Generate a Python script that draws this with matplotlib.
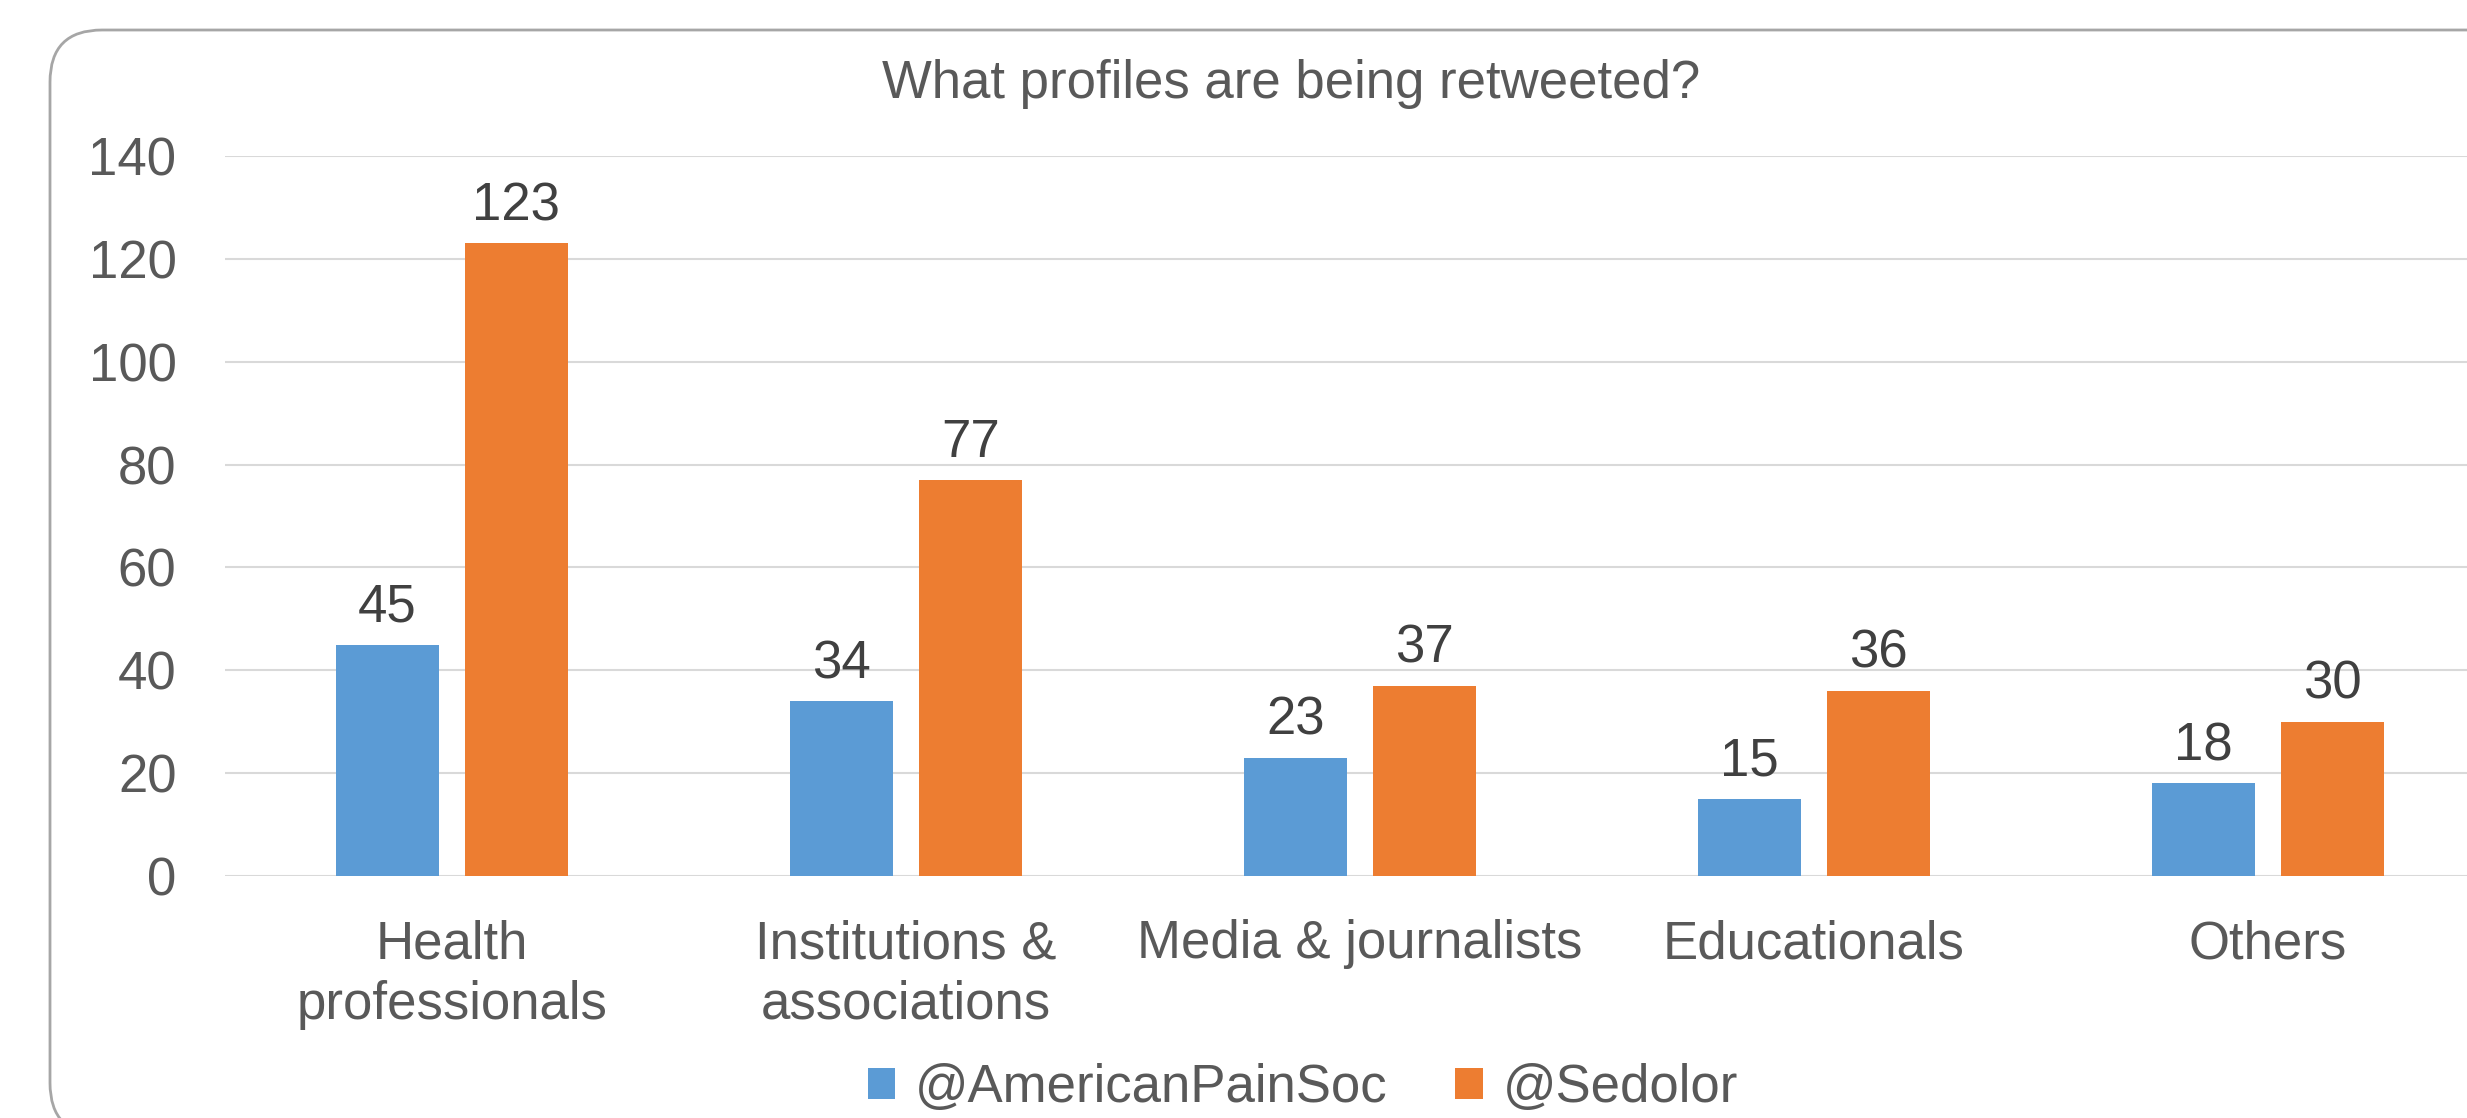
import numpy as np
import matplotlib
matplotlib.use("Agg")
import matplotlib.pyplot as plt
from matplotlib.patches import FancyBboxPatch, Patch

plt.rcParams['font.family'] = ['Liberation Sans', 'DejaVu Sans']

# data
categories = ["Health\nprofessionals", "Institutions &\nassociations",
              "Media & journalists", "Educationals", "Others"]
american_pain_soc = [45, 34, 23, 15, 18]
sedolor = [123, 77, 37, 36, 30]
series_names = ["@AmericanPainSoc", "@Sedolor"]
y_ticks = [0, 20, 40, 60, 80, 100, 120, 140]

W, H = 2467, 1118
TEXT = '#595959'
LABEL = '#404040'
BLUE = '#5B9BD5'
ORANGE = '#ED7D31'
FS = 38

fig = plt.figure(figsize=(W / 100, H / 100), dpi=100)

# background frame (pixel coordinates)
bg = fig.add_axes([0, 0, 1, 1])
bg.set_xlim(0, W)
bg.set_ylim(H, 0)
bg.axis('off')
frame = FancyBboxPatch((50, 30), 2494, 1105,
                       boxstyle="round,pad=0,rounding_size=52",
                       facecolor='white', edgecolor='#A6A6A6', linewidth=2)
bg.add_patch(frame)

# main axes
left, right, top, bottom = 225, 2495, 156, 876
ax = fig.add_axes([left / W, 1 - bottom / H, (right - left) / W, (bottom - top) / H])
ax.patch.set_alpha(0)

x = np.arange(len(categories))
off = 0.142
bw = 0.225
b1 = ax.bar(x - off, american_pain_soc, bw, color=BLUE, zorder=3)
b2 = ax.bar(x + off, sedolor, bw, color=ORANGE, zorder=3)

for bars, vals in [(b1, american_pain_soc), (b2, sedolor)]:
    for r, v in zip(bars, vals):
        ax.annotate(str(v), (r.get_x() + r.get_width() / 2, v),
                    xytext=(0, 16.5), textcoords='offset points',
                    ha='center', va='baseline', fontsize=FS, color=LABEL)

ax.set_xlim(-0.5, len(categories) - 0.5)
ax.set_ylim(0, 140)
ax.set_yticks(y_ticks)
ax.set_xticks(x)
ax.set_xticklabels(categories, linespacing=1.28)
ax.tick_params(axis='both', length=0, labelsize=FS, colors=TEXT)
ax.tick_params(axis='y', pad=35)
ax.tick_params(axis='x', pad=31)
ax.grid(axis='y', color='#D9D9D9', linewidth=1.5, zorder=0)
for s in ax.spines.values():
    s.set_visible(False)

fig.text(1291 / W, 1 - 98 / H, "What profiles are being retweeted?",
         ha='center', va='baseline', fontsize=FS, color=TEXT)

handles = [Patch(facecolor=BLUE), Patch(facecolor=ORANGE)]
fig.legend(handles, series_names, loc='center',
           bbox_to_anchor=(1303 / W, 1 - 1088 / H), ncol=2, frameon=False,
           fontsize=FS, labelcolor=TEXT, handlelength=0.52, handleheight=0.52,
           handletextpad=0.38, columnspacing=1.28)

fig.savefig('out.png', dpi=100)
